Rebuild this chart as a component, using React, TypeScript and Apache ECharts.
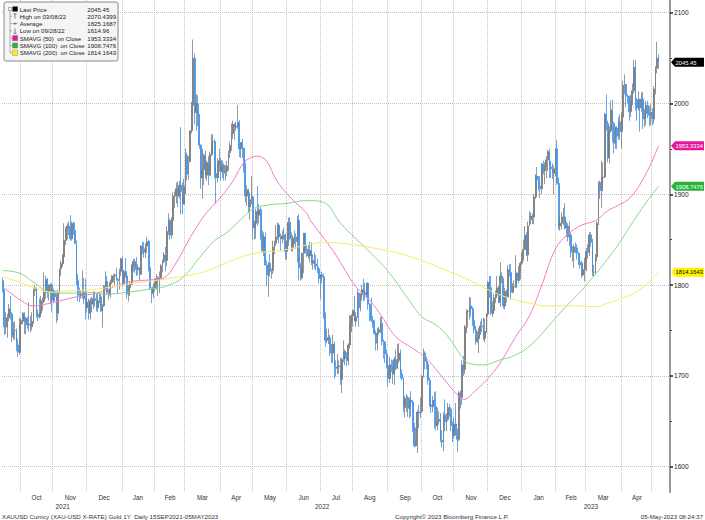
import React, { useEffect, useRef } from "react";
import * as echarts from "echarts";

const FONT = "'Liberation Sans', Arial, sans-serif";

// Daily bars, each entry [high, low, close]; open = previous close
const sep21 = [[1808,1792,1794],[1795,1745,1754],[1770,1746,1754],[1768,1742,1764],[1779,1760,1774],[1788,1762,1768],[1770,1737,1743],[1759,1740,1750],[1760,1740,1750],[1752,1727,1734],[1741,1721,1726],[1764,1723,1757]];
const oct21 = [[1763,1746,1761],[1770,1757,1769],[1770,1746,1760],[1765,1746,1763],[1765,1752,1756],[1781,1749,1757],[1766,1748,1754],[1770,1750,1760],[1796,1757,1794],[1800,1788,1797],[1797,1764,1768],[1773,1760,1765],[1785,1763,1769],[1788,1766,1783],[1786,1772,1782],[1814,1780,1792],[1810,1785,1806],[1808,1786,1793],[1801,1783,1798],[1802,1779,1800],[1802,1770,1783]];
const nov21 = [[1796,1780,1793],[1794,1782,1787],[1793,1758,1769],[1795,1761,1792],[1818,1790,1818],[1827,1810,1824],[1834,1820,1831],[1868,1823,1849],[1864,1844,1862],[1868,1850,1865],[1870,1855,1863],[1877,1849,1851],[1870,1849,1868],[1870,1855,1860],[1869,1845,1846],[1849,1800,1805],[1812,1782,1789],[1797,1781,1788],[1794,1785,1790],[1816,1785,1792],[1808,1779,1785],[1807,1762,1775]];
const dec21 = [[1793,1770,1781],[1785,1762,1769],[1786,1762,1783],[1787,1770,1779],[1793,1774,1785],[1793,1776,1783],[1790,1771,1775],[1791,1770,1783],[1792,1780,1787],[1790,1771,1771],[1779,1753,1777],[1800,1776,1799],[1815,1795,1804],[1810,1789,1792],[1795,1784,1789],[1806,1786,1803],[1811,1801,1808],[1812,1803,1810],[1813,1800,1811],[1819,1805,1806],[1808,1790,1805],[1818,1795,1815],[1830,1810,1829]];
const jan22 = [[1831,1798,1801],[1817,1800,1815],[1830,1808,1810],[1812,1785,1790],[1800,1782,1797],[1804,1788,1801],[1823,1800,1821],[1829,1815,1826],[1829,1813,1821],[1831,1810,1817],[1823,1811,1819],[1820,1805,1812],[1844,1811,1843],[1848,1834,1840],[1847,1830,1836],[1846,1830,1843],[1853,1835,1848],[1850,1815,1819],[1820,1795,1797],[1797,1780,1791],[1802,1786,1797]];
const feb22 = [[1807,1793,1801],[1812,1795,1807],[1810,1788,1805],[1815,1791,1808],[1823,1806,1821],[1828,1814,1826],[1836,1824,1833],[1842,1815,1827],[1865,1821,1859],[1879,1855,1871],[1873,1850,1855],[1875,1851,1871],[1902,1867,1898],[1903,1885,1898],[1913,1890,1906],[1914,1886,1898],[1915,1895,1910],[1974,1878,1903],[1913,1878,1889],[1917,1889,1909]];
const mar22 = [[1950,1900,1943],[1946,1915,1922],[1942,1916,1936],[1970,1935,1970],[2002,1967,1998],[2070.44,1990,2050],[2055,1977,1990],[2010,1970,2000],[2009,1975,1988],[1988,1950,1954],[1955,1906,1918],[1950,1895,1927],[1945,1910,1943],[1948,1917,1921],[1937,1915,1935],[1942,1910,1921],[1947,1920,1944],[1966,1942,1958],[1966,1945,1958],[1961,1918,1923],[1929,1890,1918],[1940,1913,1933],[1950,1925,1937]];
const apr22 = [[1940,1915,1925],[1937,1918,1932],[1934,1915,1923],[1932,1915,1925],[1937,1920,1931],[1948,1926,1946],[1958,1940,1954],[1978,1948,1967],[1981,1961,1977],[1978,1960,1974],[1980,1970,1975],[1998,1972,1979],[1982,1941,1950],[1957,1940,1957],[1961,1940,1951],[1950,1924,1931],[1935,1891,1898],[1910,1887,1905],[1906,1880,1886],[1902,1872,1894],[1920,1889,1897]];
const may22 = [[1899,1850,1863],[1871,1850,1868],[1884,1851,1881],[1909,1865,1877],[1889,1868,1883],[1886,1850,1854],[1860,1836,1838],[1858,1832,1853],[1858,1822,1822],[1827,1799,1811],[1825,1787,1824],[1834,1809,1815],[1818,1807,1816],[1849,1812,1842],[1849,1834,1846],[1866,1843,1853],[1869,1850,1866],[1868,1846,1853],[1857,1837,1851],[1860,1846,1854],[1863,1850,1855],[1857,1828,1837]];
const jun22 = [[1849,1828,1847],[1874,1843,1869],[1875,1850,1851],[1858,1837,1841],[1855,1837,1852],[1860,1845,1853],[1857,1840,1848],[1876,1825,1871],[1878,1805,1819],[1824,1805,1808],[1836,1806,1835],[1857,1813,1857],[1857,1835,1839],[1844,1831,1839],[1844,1829,1832],[1848,1825,1838],[1847,1822,1824],[1834,1817,1827],[1836,1818,1823],[1833,1816,1821],[1829,1813,1818],[1820,1802,1807]];
const jul22 = [[1812,1784,1811],[1815,1802,1809],[1813,1763,1764],[1770,1732,1739],[1752,1736,1740],[1752,1735,1742],[1745,1722,1733],[1735,1714,1725],[1745,1714,1735],[1738,1697,1710],[1717,1699,1708],[1724,1702,1710],[1717,1702,1711],[1720,1690,1696],[1720,1681,1718],[1739,1715,1727],[1729,1712,1719],[1726,1711,1717],[1736,1712,1734],[1767,1730,1756],[1768,1748,1766]];
const aug22 = [[1773,1754,1772],[1788,1760,1760],[1770,1754,1765],[1795,1764,1791],[1792,1754,1775],[1791,1771,1789],[1800,1783,1795],[1807,1782,1792],[1802,1783,1789],[1803,1786,1802],[1802,1773,1779],[1780,1760,1776],[1786,1759,1761],[1766,1753,1758],[1762,1745,1747],[1750,1728,1736],[1753,1728,1748],[1754,1745,1751],[1765,1747,1758],[1765,1734,1738],[1740,1719,1737],[1737,1714,1724],[1729,1708,1711]];
const sep22 = [[1712,1688,1697],[1721,1692,1712],[1718,1704,1710],[1717,1691,1702],[1721,1690,1718],[1729,1706,1708],[1735,1708,1717],[1736,1714,1725],[1729,1697,1702],[1707,1695,1697],[1698,1660,1665],[1678,1654,1675],[1680,1660,1676],[1678,1655,1664],[1676,1653,1673],[1683,1655,1671],[1673,1638,1643],[1648,1621,1623],[1643,1622,1629],[1662,1614.96,1660],[1668,1642,1659],[1676,1654,1661]];
const oct22 = [[1701,1659,1699],[1730,1698,1725],[1727,1707,1716],[1721,1707,1713],[1715,1690,1695],[1698,1666,1668],[1675,1659,1666],[1678,1660,1673],[1682,1642,1666],[1683,1640,1645],[1665,1640,1650],[1661,1646,1652],[1659,1627,1629],[1640,1621,1627],[1660,1617,1657],[1674,1639,1649],[1659,1639,1652],[1670,1650,1665],[1669,1655,1663],[1652,1639,1645],[1650,1627,1634]];
const nov22 = [[1654,1631,1647],[1670,1634,1636],[1642,1616,1630],[1683,1628,1681],[1684,1664,1676],[1717,1668,1712],[1722,1700,1707],[1756,1702,1754],[1773,1747,1771],[1773,1753,1771],[1787,1762,1777],[1786,1765,1774],[1776,1755,1761],[1766,1747,1751],[1755,1734,1738],[1749,1736,1741],[1753,1725,1749],[1760,1745,1755],[1763,1748,1754],[1764,1739,1741],[1763,1737,1749],[1769,1747,1768]];
const dec22 = [[1804,1765,1803],[1810,1786,1797],[1810,1767,1769],[1782,1765,1772],[1790,1768,1786],[1794,1780,1789],[1810,1788,1797],[1799,1780,1781],[1825,1776,1810],[1814,1802,1807],[1808,1774,1777],[1797,1773,1793],[1795,1781,1787],[1822,1786,1817],[1823,1809,1814],[1823,1784,1792],[1802,1791,1798],[1805,1796,1798],[1833,1797,1813],[1814,1797,1805],[1821,1802,1815],[1826,1806,1824]];
const jan23 = [[1836,1822,1829],[1850,1827,1839],[1865,1839,1855],[1858,1832,1833],[1870,1826,1865],[1881,1865,1872],[1880,1867,1876],[1879,1867,1875],[1900,1867,1897],[1922,1895,1920],[1930,1907,1916],[1920,1904,1909],[1920,1896,1906],[1935,1900,1933],[1937,1922,1926],[1935,1911,1931],[1942,1918,1938],[1949,1926,1947],[1950,1918,1930],[1937,1918,1928],[1934,1917,1923],[1932,1900,1928]];
const feb23 = [[1951,1920,1950],[1960,1910,1912],[1918,1861,1865],[1876,1860,1868],[1880,1861,1873],[1885,1866,1875],[1890,1861,1863],[1870,1853,1865],[1868,1848,1853],[1870,1843,1855],[1858,1830,1836],[1843,1826,1836],[1845,1819,1842],[1847,1835,1841],[1845,1828,1835],[1836,1822,1825],[1831,1818,1822],[1827,1808,1811],[1825,1810,1817],[1830,1804,1825]];
const mar23 = [[1841,1815,1837],[1845,1829,1836],[1858,1832,1855],[1858,1842,1847],[1851,1810,1814],[1822,1809,1814],[1834,1812,1831],[1870,1826,1868],[1914,1866,1913],[1915,1895,1904],[1937,1885,1918],[1935,1910,1919],[1990,1918,1988],[2010,1970,1978],[1981,1935,1940],[1975,1934,1970],[2003,1968,1993],[2004,1957,1978],[1980,1945,1956],[1975,1950,1973],[1975,1950,1964],[1985,1960,1980],[1988,1960,1969]];
const apr23 = [[1990,1950,1985],[2025,1979,2020],[2032,2010,2021],[2021,1996,2008],[2010,2000,2007],[2009,1981,1991],[2009,1985,2003],[2022,1998,2014],[2048,2011,2040],[2048,1992,2004],[2006,1981,1995],[2013,1992,2005],[2005,1969,1995],[2012,1991,2005],[2013,1972,1983],[1994,1974,1989],[2003,1976,1998],[2003,1984,1989],[1997,1975,1987],[1999,1976,1990]];
const may23 = [[1995,1976,1983],[2019,1978,2016],[2041,2010,2039],[2068,2033,2050],[2054,2038,2045.45]];
const firstOpen = 1805;

// Moving averages: [date, value]
const sma50Pts: [string, number][] = [
  ["2021-09-15",1798],["2021-10-01",1783],["2021-10-13",1777],["2021-11-01",1781],["2021-11-22",1787],["2021-12-13",1792],["2022-01-06",1803],["2022-01-31",1806],["2022-02-09",1808],["2022-02-18",1822],["2022-03-04",1852],["2022-03-17",1876],["2022-04-01",1897],["2022-04-13",1915],["2022-04-20",1930],["2022-04-26",1938],["2022-05-05",1942],["2022-05-13",1936],["2022-05-23",1916],["2022-06-03",1897],["2022-06-20",1879],["2022-06-22",1872],["2022-07-13",1838],["2022-07-25",1816],["2022-08-03",1798],["2022-08-16",1783],["2022-08-26",1765],["2022-09-08",1743],["2022-09-27",1728],["2022-10-07",1717],["2022-10-20",1699],["2022-11-02",1681],["2022-11-09",1674],["2022-11-21",1684],["2022-12-02",1699],["2022-12-14",1717],["2022-12-27",1743],["2023-01-09",1766],["2023-01-19",1800],["2023-02-01",1840],["2023-02-13",1856],["2023-02-24",1866],["2023-03-09",1871],["2023-03-21",1882],["2023-03-30",1888],["2023-04-11",1897],["2023-04-25",1923],["2023-05-05",1953.3334]
];
const sma100Pts: [string, number][] = [
  ["2021-09-15",1816],["2021-09-30",1813],["2021-10-13",1803],["2021-10-28",1792],["2021-11-12",1791],["2021-12-01",1792],["2021-12-20",1790],["2022-01-06",1792],["2022-01-31",1796],["2022-02-09",1798],["2022-02-25",1808],["2022-03-14",1830],["2022-03-28",1849],["2022-04-07",1858],["2022-04-20",1872],["2022-05-02",1884],["2022-05-13",1888],["2022-06-01",1890],["2022-06-20",1893],["2022-07-05",1891],["2022-07-20",1868],["2022-08-03",1851],["2022-08-18",1833],["2022-09-02",1813],["2022-09-19",1787],["2022-10-03",1765],["2022-10-14",1756],["2022-10-26",1743],["2022-11-08",1721],["2022-11-14",1714],["2022-11-28",1712],["2022-12-12",1717],["2022-12-27",1723],["2023-01-10",1734],["2023-01-25",1754],["2023-02-09",1775],["2023-02-24",1794],["2023-03-09",1812],["2023-03-21",1829],["2023-03-30",1845],["2023-04-11",1866],["2023-04-25",1891],["2023-05-05",1908.7476]
];
const sma200Pts: [string, number][] = [
  ["2021-09-15",1809],["2021-09-30",1803],["2021-10-15",1796],["2021-11-01",1792],["2021-11-18",1794],["2021-12-07",1795],["2021-12-23",1798],["2022-01-12",1802],["2022-02-02",1805],["2022-02-17",1808],["2022-03-14",1813],["2022-03-28",1819],["2022-04-11",1826],["2022-04-26",1833],["2022-05-09",1836],["2022-05-26",1838],["2022-06-20",1844],["2022-07-05",1847],["2022-08-03",1844],["2022-08-23",1840],["2022-09-12",1835],["2022-10-03",1827],["2022-10-20",1818],["2022-11-14",1806],["2022-12-02",1794],["2022-12-20",1786],["2023-01-09",1780],["2023-01-25",1777],["2023-02-20",1777],["2023-03-09",1776],["2023-03-21",1780],["2023-03-30",1784],["2023-04-18",1794],["2023-05-05",1814.1643]
];

const startDate = "2021-09-15";
const endDate = "2023-05-05";
const padStart = "2023-05-08";
const padEnd = "2023-05-16";
const yMin = 1572;
const yMax = 2114;
const yTickValues = [1600, 1700, 1800, 1900, 2000, 2100];
const yMinorValues = [1650, 1750, 1850, 1950, 2050];
const monthAbbr = ["Jan","Feb","Mar","Apr","May","Jun","Jul","Aug","Sep","Oct","Nov","Dec"];

const legendLabels = ["Last Price","High on 03/08/22","Average","Low on 09/28/22","SMAVG (50)  on Close","SMAVG (100)  on Close","SMAVG (200)  on Close"];
const legendValues = ["2045.45","2070.4399","1825.1687","1614.96","1953.3334","1908.7476","1814.1643"];
const tagValues = [2045.45, 1953.3334, 1908.7476, 1814.1643];
const tagTexts = ["2045.45","1953.3334","1908.7476","1814.1643"];
const tagBg = ["#000000","#e4189a","#24b43c","#fff200"];
const tagFg = ["#ffffff","#ffffff","#ffffff","#000000"];
const smaColors = ["#f47cc9","#86d886","#f7ea6b"];
const swatch = ["#e4189a","#24b43c","#fff200"];
const footerLeft = "XAUUSD Curncy (XAU-USD X-RATE) Gold 1Y  Daily 15SEP2021-05MAY2023";
const footerMid = "Copyright\u00a9 2023 Bloomberg Finance L.P.";
const footerRight = "05-May-2023 08:24:37";

function weekdays(a: string, b: string): string[] {
  const out: string[] = [];
  const d = new Date(a + "T00:00:00Z");
  const e = new Date(b + "T00:00:00Z");
  while (d.getTime() <= e.getTime()) {
    const wd = d.getUTCDay();
    if (wd !== 0 && wd !== 6) out.push(d.toISOString().slice(0, 10));
    d.setUTCDate(d.getUTCDate() + 1);
  }
  return out;
}

export default function App() {
  const ref = useRef<HTMLDivElement | null>(null);
  useEffect(() => {
    document.body.style.margin = "0";
    const el = ref.current;
    if (!el) return;
    const chart = echarts.init(el, null, { renderer: "svg" });
    const dates = weekdays(startDate, endDate);
    const cats = dates.concat(weekdays(padStart, padEnd));
    const months = [sep21, oct21, nov21, dec21, jan22, feb22, mar22, apr22, may22, jun22, jul22, aug22, sep22, oct22, nov22, dec22, jan23, feb23, mar23, apr23, may23];
    const rows: number[][] = ([] as number[][]).concat(...months);
    let prev = firstOpen;
    const candles = rows.map((r) => {
      const [h, l, c] = r;
      const o = prev;
      prev = c;
      return [o, c, Math.min(l, o, c), Math.max(h, o, c)];
    });

    const groupBy = (len: number) => {
      const g: { key: string; first: number; last: number }[] = [];
      dates.forEach((d, i) => {
        const k = d.slice(0, len);
        const cur = g[g.length - 1];
        if (!cur || cur.key !== k) g.push({ key: k, first: i, last: i });
        else cur.last = i;
      });
      return g;
    };
    const monthStart = new Set<number>();
    const monthMid = new Set<number>();
    const yearMid = new Set<number>();
    const mg = groupBy(7);
    mg.forEach((m, j) => {
      if (j > 0) monthStart.add(m.first);
      if (j > 0 && j < mg.length - 1) monthMid.add(Math.round((m.first + m.last) / 2));
    });
    groupBy(4).forEach((y) => yearMid.add(Math.round((y.first + y.last) / 2)));

    const labelStyle = { fontFamily: FONT, fontSize: 6.4, color: "#333" };

    chart.setOption({
      animation: false,
      backgroundColor: "#ffffff",
      textStyle: { fontFamily: FONT },
      grid: { left: 2, right: 35, top: 0, bottom: 28, containLabel: false, outerBoundsMode: "none" },
      xAxis: [
        {
          type: "category",
          data: cats,
          boundaryGap: true,
          axisLine: { show: false },
          axisTick: { show: false },
          axisLabel: {
            ...labelStyle,
            margin: 2,
            interval: (i: number) => monthMid.has(i),
            formatter: (v: string) => monthAbbr[Number(v.slice(5, 7)) - 1],
          },
          splitLine: {
            show: true,
            interval: (i: number) => monthStart.has(i),
            lineStyle: { type: "dotted", color: "#c4c4c4", width: 1 },
          },
        },
        {
          type: "category",
          data: cats,
          boundaryGap: true,
          position: "bottom",
          offset: 9,
          axisLine: { show: false },
          axisTick: { show: false },
          splitLine: { show: false },
          axisLabel: {
            ...labelStyle,
            margin: 2,
            interval: (i: number) => yearMid.has(i),
            formatter: (v: string) => v.slice(0, 4),
          },
        },
      ],
      yAxis: [
        {
          type: "value",
          position: "right",
          min: yMin,
          max: yMax,
          axisLine: { show: true, lineStyle: { color: "#9a9a9a", width: 2 } },
          axisTick: { show: true, customValues: yTickValues, length: 3, lineStyle: { color: "#222", width: 1.5 } },
          axisLabel: {
            show: true,
            customValues: yTickValues,
            fontFamily: FONT,
            fontSize: 6.6,
            color: "#222",
            margin: 4,
            formatter: (v: number) => String(Math.round(v)),
          },
          splitLine: { show: false },
        },
        {
          type: "value",
          position: "right",
          min: yMin,
          max: yMax,
          axisLine: { show: false },
          axisTick: { show: true, customValues: yMinorValues, length: 2, lineStyle: { color: "#444", width: 1 } },
          axisLabel: { show: false },
          splitLine: { show: false },
        },
      ],
      series: [
        {
          type: "line",
          name: "grid",
          data: [],
          silent: true,
          z: 0,
          markLine: {
            silent: true,
            z: 0,
            symbol: ["none", "none"],
            label: { show: false },
            lineStyle: { type: "dotted", color: "#c4c4c4", width: 1 },
            data: yTickValues.map((v) => ({ yAxis: v })),
          },
        },
        {
          type: "candlestick",
          name: "XAUUSD",
          data: candles,
          barWidth: "85%",
          z: 3,
          itemStyle: {
            color: "#474747",
            color0: "#3a8ff0",
            borderColor: "#7c7c7c",
            borderColor0: "#3f8fe4",
            borderWidth: 0.8,
          },
        },
        ...[sma50Pts, sma100Pts, sma200Pts].map((pts, i) => ({
          type: "line",
          name: "SMA" + i,
          data: pts,
          smooth: 0.4,
          showSymbol: false,
          symbol: "none",
          z: 4,
          silent: true,
          lineStyle: { color: smaColors[i], width: 1 },
        })),
      ],
    });

    const elements: any[] = [];
    // price tags
    tagValues.forEach((v, i) => {
      const y = chart.convertToPixel({ yAxisIndex: 0 }, v) as number;
      elements.push({
        type: "polygon",
        shape: { points: [[671, y], [675, y - 4.5], [704, y - 4.5], [704, y + 4.5], [675, y + 4.5]] },
        style: { fill: tagBg[i] },
        z: 20,
      });
      elements.push({
        type: "text",
        x: 675.5,
        y: y + 0.3,
        style: { text: tagTexts[i], fill: tagFg[i], fontFamily: FONT, fontSize: 5.8, verticalAlign: "middle", align: "left" },
        z: 21,
      });
    });
    // legend box
    const rowY = (i: number) => 9 + i * 7.3;
    elements.push({
      type: "rect",
      shape: { x: 4, y: 2, width: 114, height: 59, r: 2 },
      style: { fill: "#f5f5f5", stroke: "#8a8a8a", lineWidth: 1 },
      z: 30,
    });
    elements.push({ type: "line", shape: { x1: 10, y1: rowY(0), x2: 10, y2: rowY(6) }, style: { stroke: "#9a9a9a", lineWidth: 0.8 }, z: 31 });
    elements.push({ type: "rect", shape: { x: 8.5, y: rowY(0) - 1.5, width: 3, height: 3 }, style: { fill: "#fff", stroke: "#777", lineWidth: 0.6 }, z: 32 });
    legendLabels.forEach((lab, i) => {
      const y = rowY(i);
      if (i > 0) elements.push({ type: "line", shape: { x1: 10, y1: y, x2: 12, y2: y }, style: { stroke: "#9a9a9a", lineWidth: 0.8 }, z: 31 });
      if (i === 0) {
        elements.push({ type: "rect", shape: { x: 12.5, y: y - 2.6, width: 5.2, height: 5.2 }, style: { fill: "#000" }, z: 32 });
      } else if (i === 1) {
        elements.push({ type: "line", shape: { x1: 15, y1: y - 2.5, x2: 15, y2: y + 2.5 }, style: { stroke: "#666", lineWidth: 0.8 }, z: 32 });
        elements.push({ type: "line", shape: { x1: 13.3, y1: y - 2.5, x2: 16.7, y2: y - 2.5 }, style: { stroke: "#666", lineWidth: 0.8 }, z: 32 });
      } else if (i === 2) {
        elements.push({ type: "line", shape: { x1: 12.8, y1: y, x2: 17.2, y2: y }, style: { stroke: "#666", lineWidth: 0.8 }, z: 32 });
        elements.push({ type: "line", shape: { x1: 15, y1: y - 1.2, x2: 15, y2: y + 1.2 }, style: { stroke: "#666", lineWidth: 0.8 }, z: 32 });
      } else if (i === 3) {
        elements.push({ type: "line", shape: { x1: 15, y1: y - 2.5, x2: 15, y2: y + 2.5 }, style: { stroke: "#666", lineWidth: 0.8 }, z: 32 });
        elements.push({ type: "line", shape: { x1: 13.3, y1: y + 2.5, x2: 16.7, y2: y + 2.5 }, style: { stroke: "#666", lineWidth: 0.8 }, z: 32 });
      } else {
        elements.push({ type: "rect", shape: { x: 12.5, y: y - 2.6, width: 5.2, height: 5.2 }, style: { fill: swatch[i - 4], stroke: "#777", lineWidth: 0.4 }, z: 32 });
      }
      elements.push({ type: "text", x: 19.7, y, style: { text: lab, fill: "#222", fontFamily: FONT, fontSize: 6.1, verticalAlign: "middle" }, z: 32 });
      elements.push({ type: "text", x: 87.3, y, style: { text: legendValues[i], fill: "#222", fontFamily: FONT, fontSize: 6.1, verticalAlign: "middle" }, z: 32 });
    });
    // footer
    elements.push({ type: "text", x: 2, y: 516, style: { text: footerLeft, fill: "#333", fontFamily: FONT, fontSize: 6.2, verticalAlign: "middle" }, z: 10 });
    elements.push({ type: "text", x: 395, y: 516, style: { text: footerMid, fill: "#333", fontFamily: FONT, fontSize: 6.2, verticalAlign: "middle" }, z: 10 });
    elements.push({ type: "text", x: 703, y: 516, style: { text: footerRight, fill: "#333", fontFamily: FONT, fontSize: 6.2, verticalAlign: "middle", align: "right" }, z: 10 });

    chart.setOption({ graphic: { elements } });

    return () => {
      chart.dispose();
    };
  }, []);
  return <div ref={ref} style={{ position: "absolute", left: 0, top: 0, width: 705, height: 520 }} />;
}
